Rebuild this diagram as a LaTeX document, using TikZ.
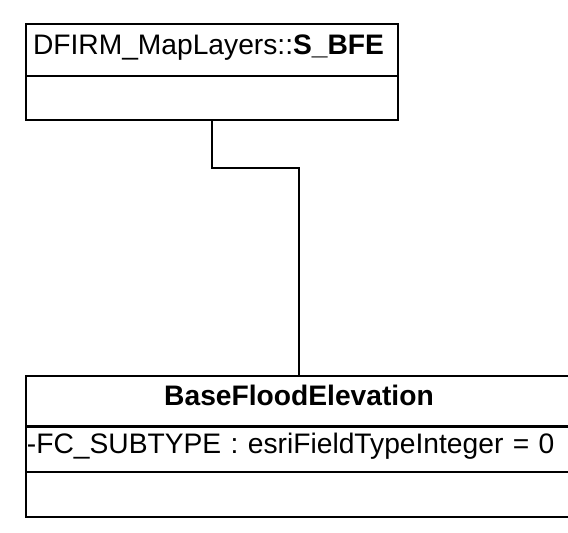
\documentclass[tikz,border=0pt]{standalone}
\usepackage{fontspec}
\setmainfont{Liberation Sans}
\usetikzlibrary{positioning}
\newcommand{\umlfont}{\fontsize{28.2}{34}\selectfont}
\tikzset{
  umlrow/.style={draw, line width=2.2pt, anchor=north, inner ysep=0pt, outer sep=0pt,
    text height=0.8em, text depth=0em, font=\umlfont},
  link/.style={draw, line width=2pt}
}

\begin{document}
\begin{tikzpicture}[x=1pt, y=-1pt]
            \clip (0,0) rectangle (568,533);
            % Map layer class
            \node[umlrow, anchor=north west, text width=358, inner xsep=7, align=left, minimum height=52] (bfeName) at (26,24) {DFIRM\_MapLayers::\textbf{S\_BFE}};
            \node[umlrow, minimum width=372, minimum height=44, below=0pt of bfeName] (bfeOps) {};
            
            % Feature class
            \node[umlrow, anchor=north west, text width=546, inner xsep=0, align=center, minimum height=50.5] (bfeClass) at (26,376) {\textbf{BaseFloodElevation}};
            \node[umlrow, text width=544, inner xsep=1, align=left, minimum height=45.5, below=0pt of bfeClass] (bfeAttr) {-FC\_SUBTYPE : esriFieldTypeInteger = 0};
            \node[umlrow, minimum width=546, minimum height=45, below=0pt of bfeAttr] (bfeOps2) {};
            
            % Connector
            \draw[link] (bfeOps.south) -- ++(0,48) -| (bfeClass.north);
        \end{tikzpicture}
\end{document}
